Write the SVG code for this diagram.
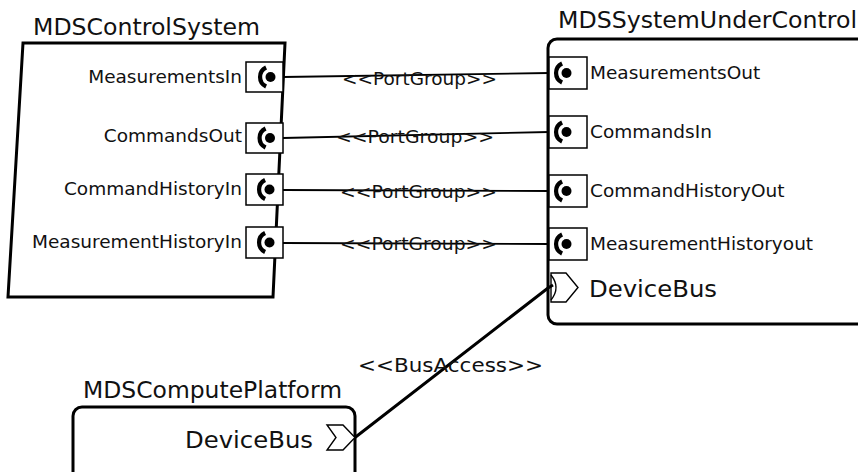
<svg xmlns="http://www.w3.org/2000/svg" width="858" height="472" viewBox="0 0 858 472">
<style>
text{font-family:"DejaVu Sans","Liberation Sans",sans-serif;fill:#111}
.title{font-size:23.5px}
.plabel{font-size:18.5px}
.stereo{font-size:18px}
.node{fill:#fff;stroke:#000;stroke-width:3}
.pbox{fill:#fff;stroke:#000;stroke-width:1.5}
.conn{fill:none;stroke:#000;stroke-width:1.8}
.bus{fill:none;stroke:#000;stroke-width:3}
.chev{fill:#fff;stroke:#000;stroke-width:1.4}
</style>
<defs>
<g id="sock">
<path d="M-4.4,-9.5 A10.5 10.5 0 0 0 -4.4,9.5" fill="none" stroke="#000" stroke-width="4.2"/>
<circle cx="0" cy="0" r="5" fill="#000"/>
</g>
</defs>

<g id="node-control">
<text class="title" x="33" y="35" textLength="227" lengthAdjust="spacingAndGlyphs">MDSControlSystem</text>
<polygon class="node" points="23,43 285,43 273,297 8,297"/>
<rect class="pbox" x="246" y="62" width="37" height="30"/>
<use href="#sock" x="270.5" y="77"/>
<text class="plabel" x="242" y="83" text-anchor="end">MeasurementsIn</text>
<rect class="pbox" x="246" y="123" width="37" height="30"/>
<use href="#sock" x="270" y="138"/>
<text class="plabel" x="242" y="142" text-anchor="end">CommandsOut</text>
<rect class="pbox" x="246" y="174" width="37" height="31"/>
<use href="#sock" x="269.5" y="189.5"/>
<text class="plabel" x="242" y="195" text-anchor="end">CommandHistoryIn</text>
<rect class="pbox" x="246" y="227" width="37" height="31"/>
<use href="#sock" x="269.5" y="242.5"/>
<text class="plabel" x="242" y="248" text-anchor="end">MeasurementHistoryIn</text>
</g>

<g id="node-suc">
<text class="title" x="558" y="28" textLength="299" lengthAdjust="spacingAndGlyphs">MDSSystemUnderControl</text>
<rect class="node" x="548" y="39" width="330" height="285" rx="9"/>
<rect class="pbox" x="549" y="57" width="38" height="32"/>
<use href="#sock" x="566.5" y="73"/>
<text class="plabel" x="590" y="79">MeasurementsOut</text>
<rect class="pbox" x="549" y="116" width="38" height="32"/>
<use href="#sock" x="566.5" y="132"/>
<text class="plabel" x="590" y="138">CommandsIn</text>
<rect class="pbox" x="549" y="175" width="38" height="32"/>
<use href="#sock" x="566.5" y="191"/>
<text class="plabel" x="590" y="197">CommandHistoryOut</text>
<rect class="pbox" x="549" y="228" width="38" height="32"/>
<use href="#sock" x="566.5" y="244"/>
<text class="plabel" x="590" y="250">MeasurementHistoryout</text>
<polygon class="chev" points="551,273 566,273 578,287.5 566,302 551,302"/>
<path d="M551,275 Q561,287.5 551,300" fill="none" stroke="#000" stroke-width="1.4"/>
<text class="title" x="589" y="297" textLength="128" lengthAdjust="spacingAndGlyphs">DeviceBus</text>
</g>

<g id="node-compute">
<text class="title" x="83" y="398" textLength="259" lengthAdjust="spacingAndGlyphs">MDSComputePlatform</text>
<rect class="node" x="73" y="407" width="282" height="90" rx="9"/>
<polygon class="chev" points="327,425 343,425 355,437.5 343,450 327,450 336,437.5"/>
<text class="title" x="185" y="448" textLength="128" lengthAdjust="spacingAndGlyphs">DeviceBus</text>
</g>

<g id="connectors">
<line class="conn" x1="283" y1="77" x2="549" y2="73"/>
<text class="stereo" x="342" y="85" textLength="155" lengthAdjust="spacingAndGlyphs">&lt;&lt;PortGroup&gt;&gt;</text>
<line class="conn" x1="283" y1="138" x2="549" y2="132"/>
<text class="stereo" x="336" y="143" textLength="158" lengthAdjust="spacingAndGlyphs">&lt;&lt;PortGroup&gt;&gt;</text>
<line class="conn" x1="283" y1="190" x2="549" y2="191"/>
<text class="stereo" x="340" y="198" textLength="157" lengthAdjust="spacingAndGlyphs">&lt;&lt;PortGroup&gt;&gt;</text>
<line class="conn" x1="283" y1="243" x2="549" y2="244"/>
<text class="stereo" x="340" y="250" textLength="157" lengthAdjust="spacingAndGlyphs">&lt;&lt;PortGroup&gt;&gt;</text>
<polyline class="bus" points="355,437.5 548,288 553,285"/>
<text x="358" y="372" font-size="20" textLength="185" lengthAdjust="spacingAndGlyphs">&lt;&lt;BusAccess&gt;&gt;</text>
</g>
</svg>
